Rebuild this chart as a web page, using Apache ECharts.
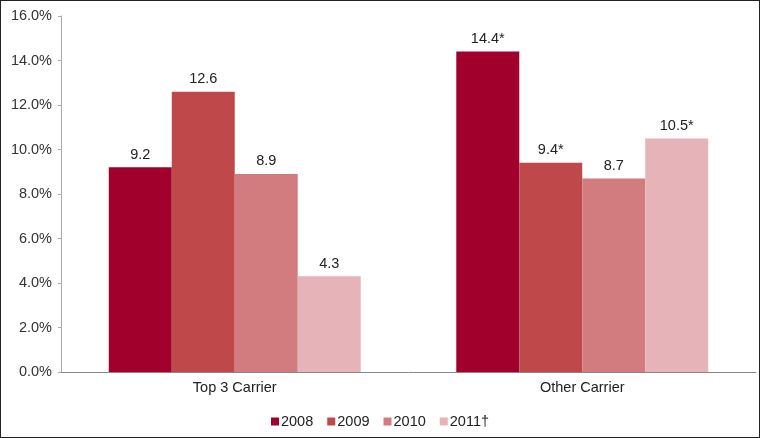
<!DOCTYPE html>
<html>
<head>
<meta charset="utf-8">
<script src="https://cdn.jsdelivr.net/npm/echarts@6/dist/echarts.min.js"></script>
<style>
  html, body { margin: 0; padding: 0; background: #fff; }
  #chart {
    width: 760px;
    height: 438px;
    box-sizing: border-box;
    border: 1px solid #222;
  }
</style>
</head>
<body>
<div id="chart"></div>
<script>
const categories = ["Top 3 Carrier", "Other Carrier"];
const years = ["2008", "2009", "2010", "2011†"];
const values2008 = [9.2, 14.4];
const values2009 = [12.6, 9.4];
const values2010 = [8.9, 8.7];
const values2011 = [4.3, 10.5];
const labels2008 = ["9.2", "14.4*"];
const labels2009 = ["12.6", "9.4*"];
const labels2010 = ["8.9", "8.7"];
const labels2011 = ["4.3", "10.5*"];
const colors = ["#a0002b", "#bf484b", "#d27c80", "#e6b4b8"];

const seriesValues = [values2008, values2009, values2010, values2011];
const seriesLabels = [labels2008, labels2009, labels2010, labels2011];

const chart = echarts.init(document.getElementById("chart"));

chart.setOption({
  animation: false,
  textStyle: { fontFamily: "Liberation Sans, Arial, sans-serif" },
  grid: { left: 60, right: 3, top: 15, bottom: 65 },
  legend: {
    bottom: 3,
    left: "center",
    itemWidth: 8,
    itemHeight: 8,
    itemGap: 14,
    icon: "rect",
    textStyle: { fontSize: 14.5, color: "#222", padding: [0, 0, 0, -3] },
    data: years
  },
  xAxis: {
    type: "category",
    data: categories,
    axisLine: { lineStyle: { color: "#888" } },
    axisTick: { show: false },
    axisLabel: { fontSize: 14.5, color: "#222", margin: 8 }
  },
  yAxis: {
    type: "value",
    min: 0,
    max: 16,
    interval: 2,
    axisLine: { show: true, lineStyle: { color: "#aaa" } },
    axisTick: { show: true, length: 3, lineStyle: { color: "#aaa" } },
    splitLine: { show: false },
    axisLabel: {
      fontSize: 14.5,
      color: "#333",
      margin: 9,
      formatter: v => v.toFixed(1) + "%"
    }
  },
  series: years.map((name, i) => ({
    name: name,
    type: "bar",
    data: seriesValues[i],
    barGap: "0%",
    barCategoryGap: "27.5%",
    itemStyle: { color: colors[i] },
    label: {
      show: true,
      position: "top",
      distance: 5,
      fontSize: 14.5,
      color: "#222",
      formatter: p => seriesLabels[i][p.dataIndex]
    }
  }))
});
</script>
</body>
</html>
